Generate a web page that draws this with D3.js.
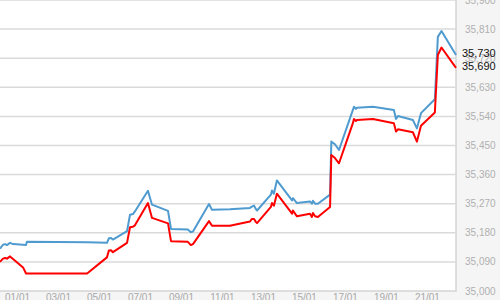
<!DOCTYPE html>
<html>
<head>
<meta charset="utf-8">
<script src="https://cdn.jsdelivr.net/npm/d3@7"></script>
<style>
  html, body { margin: 0; padding: 0; background: #f5f5f5; }
  svg { display: block; font-family: "Liberation Sans", Arial, sans-serif; }
</style>
</head>
<body>
<div id="chart"></div>
<script>
var times = [
  "2016-12-31 03:30", "2016-12-31 07:00", "2016-12-31 09:30", "2016-12-31 11:45",
  "2016-12-31 15:15", "2016-12-31 18:45", "2017-01-01 06:30", "2017-01-01 10:00",
  "2017-01-01 11:00", "2017-01-04 09:30", "2017-01-05 08:45", "2017-01-05 11:00",
  "2017-01-05 13:30", "2017-01-05 15:45", "2017-01-06 08:15", "2017-01-06 11:45",
  "2017-01-06 15:15", "2017-01-06 17:30", "2017-01-07 08:45", "2017-01-07 13:30",
  "2017-01-08 08:15", "2017-01-08 11:45", "2017-01-09 07:30", "2017-01-09 11:00",
  "2017-01-09 13:30", "2017-01-10 08:15", "2017-01-10 11:45", "2017-01-11 08:45",
  "2017-01-12 08:15", "2017-01-12 10:30", "2017-01-12 13:00", "2017-01-12 15:15",
  "2017-01-12 16:30", "2017-01-13 08:45", "2017-01-13 10:00", "2017-01-13 12:15",
  "2017-01-13 15:45", "2017-01-14 09:30", "2017-01-14 10:30", "2017-01-14 15:15",
  "2017-01-15 06:30", "2017-01-15 08:45", "2017-01-15 10:00", "2017-01-15 12:30",
  "2017-01-15 15:45", "2017-01-16 06:00", "2017-01-16 07:30", "2017-01-16 11:45",
  "2017-01-16 16:30", "2017-01-17 08:45", "2017-01-17 10:00", "2017-01-17 12:15",
  "2017-01-17 13:30", "2017-01-18 08:15", "2017-01-19 08:45", "2017-01-19 11:15",
  "2017-01-19 13:30", "2017-01-20 07:00", "2017-01-20 11:45", "2017-01-20 16:30",
  "2017-01-21 08:45", "2017-01-21 12:15", "2017-01-21 16:30", "2017-01-22 09:30"
];

var blueValues = [
  35131, 35143, 35145, 35142, 35149, 35145, 35143, 35142,
  35152, 35151, 35149, 35163, 35164, 35159, 35185, 35236,
  35238, 35246, 35310, 35267, 35248, 35192, 35190, 35182,
  35184, 35269, 35251, 35253, 35257, 35261, 35264, 35253,
  35249, 35298, 35311, 35301, 35342, 35280, 35287, 35272,
  35277, 35270, 35279, 35270, 35270, 35298, 35462, 35454,
  35436, 35560, 35570, 35563, 35567, 35570, 35560, 35532,
  35541, 35529, 35503, 35550, 35593, 35786, 35804, 35730
];

var redValues = [
  35090, 35100, 35102, 35100, 35107, 35099, 35073, 35054,
  35054, 35054, 35104, 35125, 35126, 35120, 35149, 35197,
  35199, 35203, 35272, 35226, 35209, 35154, 35152, 35142,
  35145, 35216, 35202, 35202, 35215, 35223, 35223, 35213,
  35210, 35260, 35272, 35264, 35301, 35239, 35249, 35231,
  35239, 35229, 35241, 35231, 35229, 35260, 35421, 35411,
  35395, 35519, 35532, 35526, 35529, 35532, 35519, 35493,
  35500, 35491, 35462, 35511, 35552, 35730, 35753, 35690
];

var xTickLabels = ["01/01", "03/01", "05/01", "07/01", "09/01", "11/01",
                   "13/01", "15/01", "17/01", "19/01", "21/01"];
var yTickValues = [35000, 35090, 35180, 35270, 35360, 35450,
                   35540, 35630, 35720, 35810, 35900];

var width  = 500,
    height = 300,
    plotW  = 456,
    plotH  = 291;

var parseTime = d3.timeParse("%Y-%m-%d %H:%M"),
    parseTick = d3.timeParse("%d/%m/%Y");

var dates = times.map(parseTime);

var x = d3.scaleTime()
  .domain(d3.extent(dates))
  .range([0, plotW]);

var y = d3.scaleLinear()
  .domain([35000, 35900])
  .range([plotH, 0]);

var svg = d3.select('#chart')
  .append('svg')
  .attr('width', width)
  .attr('height', height);

/* plot background */
svg.append('rect')
  .attr('x', -2)
  .attr('y', -2)
  .attr('width', plotW + 2)
  .attr('height', plotH + 2)
  .attr('fill', '#fff')
  .attr('stroke', '#d4d4d4')
  .attr('stroke-width', 1.5);

var grid = svg.append('g').attr('class', 'grid');
grid.selectAll('line')
  .data(yTickValues.slice(1))
  .enter().append('line')
  .attr('x1', 0)
  .attr('x2', plotW)
  .attr('y1', function (d) { return y(d); })
  .attr('y2', function (d) { return y(d); })
  .attr('stroke', '#dadada')
  .attr('stroke-width', 1.5);

var fmt = d3.format(',');

/* right axis labels */
svg.append('g')
  .selectAll('text')
  .data(yTickValues)
  .enter().append('text')
  .attr('x', 465)
  .attr('y', function (d) { return y(d); })
  .attr('dy', '0.35em')
  .attr('font-size', '10px')
  .attr('fill', '#b0b0b0')
  .text(function (d) { return fmt(d); });

/* bottom axis labels */
var tickDates = xTickLabels.map(function (s) { return parseTick(s + '/2017'); });
svg.append('g')
  .selectAll('text')
  .data(tickDates)
  .enter().append('text')
  .attr('x', function (d) { return x(d); })
  .attr('y', 301)
  .attr('text-anchor', 'middle')
  .attr('font-size', '10px')
  .attr('fill', '#a8a8a8')
  .text(function (d, i) { return xTickLabels[i]; });

var line = d3.line()
  .x(function (d) { return x(d[0]); })
  .y(function (d) { return y(d[1]); });

var series = [
  { values: blueValues, color: '#4f9bd0' },
  { values: redValues,  color: '#ff0000' }
];

svg.append('g')
  .selectAll('path')
  .data(series)
  .enter().append('path')
  .attr('d', function (s) {
    return line(dates.map(function (d, i) { return [d, s.values[i]]; }));
  })
  .attr('fill', 'none')
  .attr('stroke', function (s) { return s.color; })
  .attr('stroke-width', 2)
  .attr('stroke-linejoin', 'round');

/* last value labels */
svg.append('g')
  .selectAll('text')
  .data(series)
  .enter().append('text')
  .attr('x', 462)
  .attr('y', function (s) { return y(s.values[s.values.length - 1]) - 1.5; })
  .attr('dy', '0.35em')
  .attr('font-size', '11px')
  .attr('fill', '#111')
  .text(function (s) { return fmt(s.values[s.values.length - 1]); });
</script>
</body>
</html>
